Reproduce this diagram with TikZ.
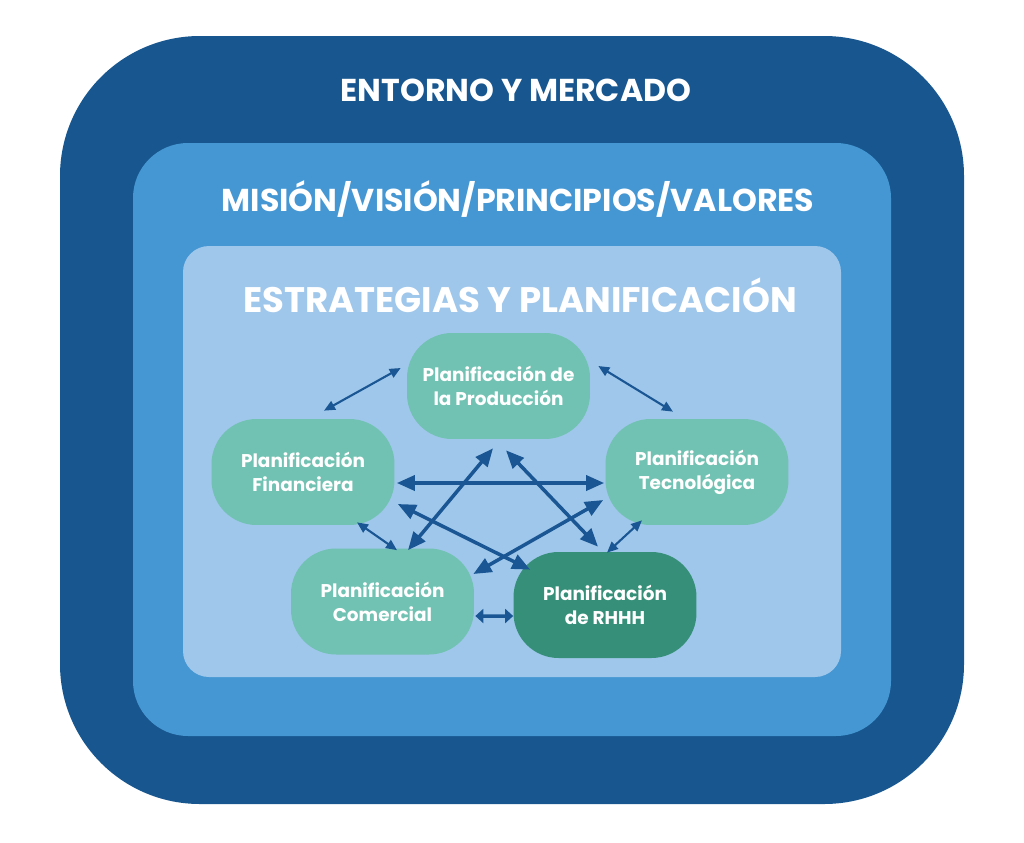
\documentclass[tikz,border=0pt]{standalone}
\usepackage{fontspec}
\setmainfont{Poppins}
\usepackage{tikz}
\usetikzlibrary{arrows.meta}
\definecolor{entorno}{HTML}{17568F}
\definecolor{mision}{HTML}{4597D3}
\definecolor{estrategia}{HTML}{9FC7EB}
\definecolor{plan}{HTML}{71C2B2}
\definecolor{planosc}{HTML}{369079}
\definecolor{flechaazul}{HTML}{1A5693}
\tikzset{
  titulo/.style={text=white, font=\fontsize{18}{20}\selectfont\bfseries, inner sep=0pt},
  planbox/.style={fill=plan, rounded corners=0.9cm, minimum width=3.66cm, minimum height=2.12cm,
    inner sep=0pt, align=center, text=white, font=\fontsize{10.5}{13.6}\selectfont\bfseries},
  flechagruesa/.style={draw=flechaazul, line width=2pt,
    {Triangle[length=0.36cm,width=0.3cm]}-{Triangle[length=0.36cm,width=0.3cm]}},
  flechafina/.style={draw=flechaazul, line width=1.2pt,
    {Triangle[length=0.22cm,width=0.19cm]}-{Triangle[length=0.22cm,width=0.19cm]}},
  flechacorta/.style={draw=flechaazul, line width=2pt,
    {Triangle[length=0.16cm,width=0.28cm]}-{Triangle[length=0.16cm,width=0.28cm]}}
}
\begin{document}
\begin{tikzpicture}[x=0.02cm, y=-0.02cm]
		%%%%% START %%%%%
		\useasboundingbox (0,0) rectangle (1024,842);
		
		\fill[entorno, rounded corners=2.8cm] (60,36) rectangle (964,804);
		\fill[mision, rounded corners=1.1cm] (133,143) rectangle (891,736);
		\fill[estrategia, rounded corners=0.52cm] (183,246) rectangle (841,677);
		
		\node[titulo] (tentorno) at (516,90) {ENTORNO Y MERCADO};
		\node[titulo] (tmision) at (518,199) {MISIÓN/VISIÓN/PRINCIPIOS/VALORES};
		\node[titulo, font=\fontsize{20.2}{22}\selectfont\bfseries] (testrategia) at (520,295) {ESTRATEGIAS Y PLANIFICACIÓN};
		
		\node[planbox] (prod) at (498.5,386) {Planificación de\\la Producción};
		\node[planbox] (fin) at (303,472) {Planificación\\Financiera};
		\node[planbox] (tec) at (697,472) {Planificación\\Tecnológica};
		\node[planbox] (com) at (382.5,601.5) {Planificación\\Comercial};
		\node[planbox, fill=planosc] (rhhh) at (605,605) {Planificación\\de RHHH};
		
		\draw[flechafina] ([shift={(21,-8)}]fin.north) -- ([shift={(-6,-18)}]prod.west);
		\draw[flechafina] ([shift={(8,-20)}]prod.east) -- ([shift={(-24,-7)}]tec.north);
		\draw[flechafina] ([shift={(54,-3)}]fin.south) -- ([shift={(14.5,2)}]com.north);
		\draw[flechafina] ([shift={(-55,-5)}]tec.south) -- ([shift={(2,1)}]rhhh.north);
		
		\draw[flechagruesa] ([shift={(2,11)}]fin.east) -- ([shift={(-1,11)}]tec.west);
		\draw[flechagruesa] ([shift={(3,32)}]fin.east) -- ([shift={(17,18)}]rhhh.north west);
		\draw[flechagruesa] ([shift={(-5.5,9)}]prod.south) -- ([shift={(25.5,2)}]com.north);
		\draw[flechagruesa] ([shift={(7.5,11)}]prod.south) -- ([shift={(-7,-5)}]rhhh.north);
		\draw[flechagruesa] ([shift={(-2,28)}]tec.west) -- ([shift={(-1,-27.5)}]com.east);
		\draw[flechacorta] ([shift={(1,14.5)}]com.east) -- ([shift={(0,11)}]rhhh.west);
		
		%%%%% END %%%%%
\end{tikzpicture}
\end{document}
